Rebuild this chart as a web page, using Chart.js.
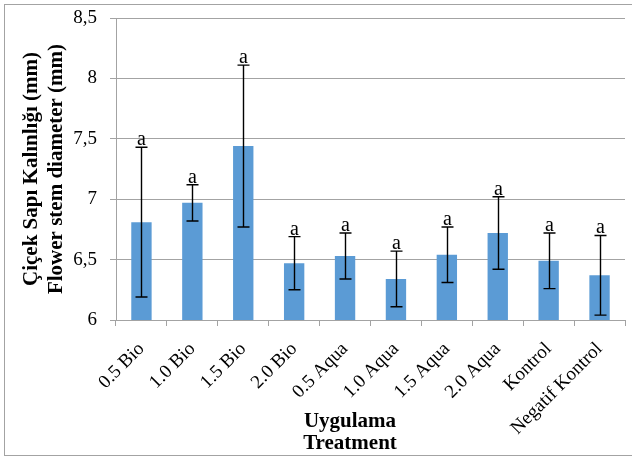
<!DOCTYPE html>
<html>
<head>
<meta charset="utf-8">
<script src="https://cdn.jsdelivr.net/npm/chart.js@4/dist/chart.umd.min.js"></script>
<style>
  html, body { margin: 0; padding: 0; background: #fff; }
  #wrap { position: relative; width: 632px; height: 458px; }
</style>
</head>
<body>
<div id="wrap"><canvas id="c" width="632" height="458"></canvas></div>
<script>
// Flower stem diameter (mm) per treatment, mean ± error
const categories = ['0.5 Bio', '1.0 Bio', '1.5 Bio', '2.0 Bio', '0.5 Aqua', '1.0 Aqua', '1.5 Aqua', '2.0 Aqua', 'Kontrol', 'Negatif Kontrol'];
const means = [6.81, 6.97, 7.44, 6.47, 6.53, 6.34, 6.54, 6.72, 6.49, 6.37];
const errors = [0.62, 0.15, 0.67, 0.22, 0.19, 0.23, 0.23, 0.30, 0.23, 0.33];
const letters = ['a', 'a', 'a', 'a', 'a', 'a', 'a', 'a', 'a', 'a'];
const yTitle = ['Çiçek Sapı Kalınlığı (mm)', 'Flower stem diameter (mm)'];
const xTitle = ['Uygulama', 'Treatment'];

const SERIF = '"Liberation Serif", "Times New Roman", serif';
const GRID = '#a3a3a3';

// Frame, error bars, significance letters and axis titles
const extras = {
  id: 'extras',
  beforeDraw(chart) {
    const ctx = chart.ctx;
    ctx.save();
    ctx.fillStyle = '#fff';
    ctx.fillRect(0, 0, chart.width, chart.height);
    ctx.strokeStyle = GRID;
    ctx.lineWidth = 1;
    ctx.strokeRect(4.5, 4.5, 640, 451);
    ctx.restore();
  },
  afterDatasetsDraw(chart) {
    const ctx = chart.ctx;
    const x = chart.scales.x, y = chart.scales.y;
    ctx.save();
    ctx.strokeStyle = '#000';
    ctx.lineWidth = 1.4;
    ctx.fillStyle = '#000';
    ctx.font = '20px ' + SERIF;
    ctx.textAlign = 'center';
    ctx.textBaseline = 'alphabetic';
    means.forEach((m, i) => {
      const px = Math.round(x.getPixelForValue(i)) + 0.5;
      const top = y.getPixelForValue(m + errors[i]);
      const bot = y.getPixelForValue(m - errors[i]);
      ctx.beginPath();
      ctx.moveTo(px, top); ctx.lineTo(px, bot);
      ctx.moveTo(px - 6, top); ctx.lineTo(px + 6, top);
      ctx.moveTo(px - 6, bot); ctx.lineTo(px + 6, bot);
      ctx.stroke();
      ctx.fillText(letters[i], px, top - 2);
    });

    // axis titles
    ctx.font = 'bold 21px ' + SERIF;
    ctx.textBaseline = 'middle';
    const cy = (chart.chartArea.top + chart.chartArea.bottom) / 2;
    [32, 57].forEach((tx, k) => {
      ctx.save();
      ctx.translate(tx, cy);
      ctx.rotate(-Math.PI / 2);
      ctx.fillText(yTitle[k], 0, 0);
      ctx.restore();
    });
    ctx.textBaseline = 'alphabetic';
    ctx.fillText(xTitle[0], 350, 427);
    ctx.fillText(xTitle[1], 350, 449);
    ctx.restore();
  }
};

new Chart(document.getElementById('c'), {
  type: 'bar',
  data: {
    labels: categories,
    datasets: [{
      data: means,
      backgroundColor: '#5b9bd5',
      borderWidth: 0,
      barPercentage: 0.4,
      categoryPercentage: 1.0
    }]
  },
  options: {
    responsive: false,
    animation: false,
    events: [],
    layout: { padding: { left: 0, top: 18, right: 7, bottom: 0 } },
    plugins: { legend: { display: false }, tooltip: { enabled: false } },
    scales: {
      x: {
        afterFit(s) { s.height = 138; },
        grid: { drawOnChartArea: false, drawTicks: true, tickLength: 6, color: GRID, offset: true },
        border: { color: GRID },
        ticks: {
          autoSkip: false, minRotation: 45, maxRotation: 45, padding: 12,
          color: '#000', font: { family: SERIF, size: 19 }
        }
      },
      y: {
        min: 6, max: 8.5,
        afterFit(s) { s.width = 116; s.paddingTop = 0; s.paddingBottom = 0; },
        grid: { color: GRID, tickLength: 6 },
        border: { color: GRID },
        ticks: {
          stepSize: 0.5, padding: 13, color: '#000',
          font: { family: SERIF, size: 19 },
          callback: v => String(v).replace('.', ',')
        }
      }
    }
  },
  plugins: [extras]
});
</script>
</body>
</html>
